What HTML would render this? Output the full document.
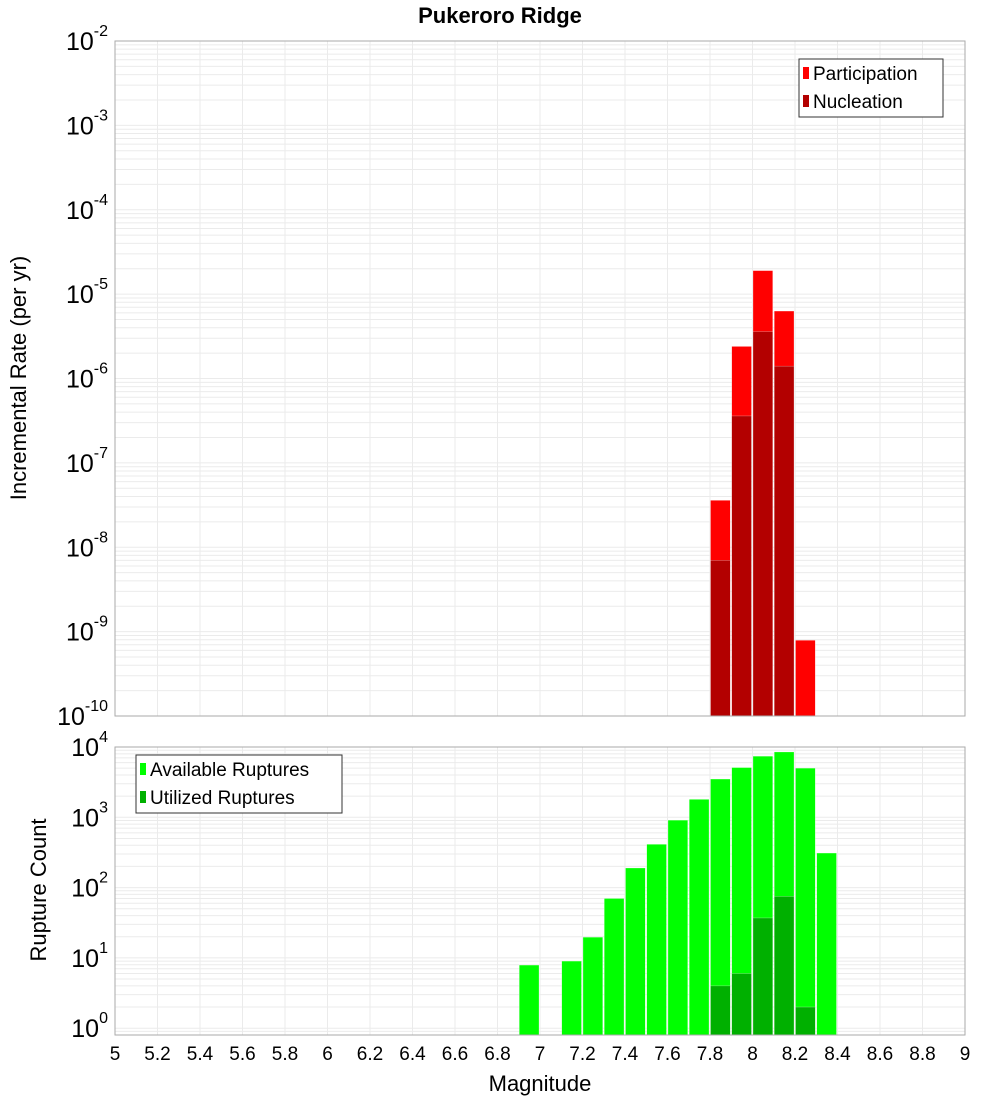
<!DOCTYPE html>
<html><head><meta charset="utf-8"><style>
body{margin:0;background:#fff;}
svg{display:block;font-family:"Liberation Sans","DejaVu Sans",sans-serif;}
</style></head><body>
<svg id="chart" width="1000" height="1100" xmlns="http://www.w3.org/2000/svg">
<text x="500" y="23" text-anchor="middle" font-size="22" font-weight="bold">Pukeroro Ridge</text>
<g id="topPlot"></g><g id="botPlot"></g>
<text transform="translate(26,378) rotate(-90)" text-anchor="middle" font-size="22">Incremental Rate (per yr)</text>
<text transform="translate(46,890) rotate(-90)" text-anchor="middle" font-size="22">Rupture Count</text>
<text x="540" y="1091" text-anchor="middle" font-size="22">Magnitude</text>
</svg>
<script>
const binCenters=[6.95,7.15,7.25,7.35,7.45,7.55,7.65,7.75,7.85,7.95,8.05,8.15,8.25,8.35];
const availableCounts=[7.9,9,19.7,70,190,413,910,1800,3500,5100,7400,8500,5000,310];
const utilizedBins=[7.85,7.95,8.05,8.15,8.25];
const utilizedCounts=[4,6,37,75,2];
const rateBins=[7.85,7.95,8.05,8.15,8.25];
const participationRates=[3.6e-8,2.4e-6,1.9e-5,6.3e-6,7.9e-10];
const nucleationRates=[7e-9,3.6e-7,3.6e-6,1.4e-6,0];
const xTicks=[5,5.2,5.4,5.6,5.8,6,6.2,6.4,6.6,6.8,7,7.2,7.4,7.6,7.8,8,8.2,8.4,8.6,8.8,9];
const topExps=[-2,-3,-4,-5,-6,-7,-8,-9,-10];
const botExps=[0,1,2,3,4];

const NS="http://www.w3.org/2000/svg";
const X0=115,X1=965;
const xs=m=>X0+(m-5)/4*(X1-X0);
const T0=41,T1=716;
const yt=v=>T0+(-2-Math.log10(v))/8*(T1-T0);
const B0=747,B1=1035,BL=Math.log10(0.8);
const yb=v=>B0+(4-Math.log10(v))/(4-BL)*(B1-B0);
function mk(p,tag,a,txt){const e=document.createElementNS(NS,tag);for(const k in a)e.setAttribute(k,a[k]);if(txt!=null)e.textContent=txt;p.appendChild(e);return e;}
const gTop=document.getElementById('topPlot'),gBot=document.getElementById('botPlot');

function grid(g,y0,y1,yf,lo,hi){
  for(let d=lo;d<hi;d++)for(let k=1;k<10;k++){const v=k*Math.pow(10,d);const y=yf(v);if(y<y0||y>y1)continue;
    const l=mk(g,'line',{x1:X0,x2:X1,y1:y,y2:y,stroke:'#ebebeb','stroke-width':1});
    
    }
  xTicks.forEach(t=>{const l=mk(g,'line',{x1:xs(t),x2:xs(t),y1:y0,y2:y1,stroke:'#ebebeb','stroke-width':1});
    
    });
}
grid(gTop,T0,T1,yt,-10,-1);
grid(gBot,B0,B1,yb,-1,4);
const bw=(X1-X0)/40;
function bar(g,c,v,yf,base,col,name){
  if(!(v>0))return;const y=yf(v);
  const r=mk(g,'rect',{x:xs(c)-bw/2+0.5,y:y,width:bw-1.5,height:base-y,fill:col,stroke:'#fff','stroke-opacity':0.5,'stroke-width':0.5});
  
  
}
rateBins.forEach((c,i)=>bar(gTop,c,participationRates[i],yt,T1,'#ff0000','participation-bar'));
rateBins.forEach((c,i)=>bar(gTop,c,nucleationRates[i],yt,T1,'#b30000','nucleation-bar'));
binCenters.forEach((c,i)=>bar(gBot,c,availableCounts[i],yb,B1,'#00ff00','available-bar'));
utilizedBins.forEach((c,i)=>bar(gBot,c,utilizedCounts[i],yb,B1,'#00b000','utilized-bar'));

[[gTop,T0,T1],[gBot,B0,B1]].forEach(([g,a,b])=>{const r=mk(g,'rect',{x:X0,y:a,width:X1-X0,height:b-a,fill:'none',stroke:'#aaa','stroke-width':1});
  
  });

function ylab(g,y,e,name){
  const t=mk(g,'text',{x:108,y:y+9,'text-anchor':'end','font-size':25});
  
  
  mk(t,'tspan',{},'10');mk(t,'tspan',{dy:-14,'font-size':16},String(e));
}
topExps.forEach(e=>ylab(gTop,yt(Math.pow(10,e)),e,'top-y-tick-label'));
botExps.forEach(e=>ylab(gBot,yb(Math.pow(10,e)),e,'bottom-y-tick-label'));
xTicks.forEach(t=>{const tx=mk(gBot,'text',{x:xs(t),y:1060,'text-anchor':'middle','font-size':19},String(t));
  
  });

function legend(g,x,y,w,items,name){
  const gg=mk(g,'g',{});
  
  
  mk(gg,'rect',{x:x,y:y,width:w,height:58,fill:'#fff',stroke:'#333','stroke-width':1});
  items.forEach((it,i)=>{const yy=y+14+i*28;
    mk(gg,'rect',{x:x+4,y:yy-6,width:6,height:12,fill:it[1]});
    const t=mk(gg,'text',{x:x+14,y:yy+7,'font-size':19},it[0]);
    
    });
}
legend(gTop,799,59,144,[['Participation','#ff0000'],['Nucleation','#b30000']],'top-legend');
legend(gBot,136,755,206,[['Available Ruptures','#00ff00'],['Utilized Ruptures','#00b000']],'bottom-legend');
</script>
</body></html>
